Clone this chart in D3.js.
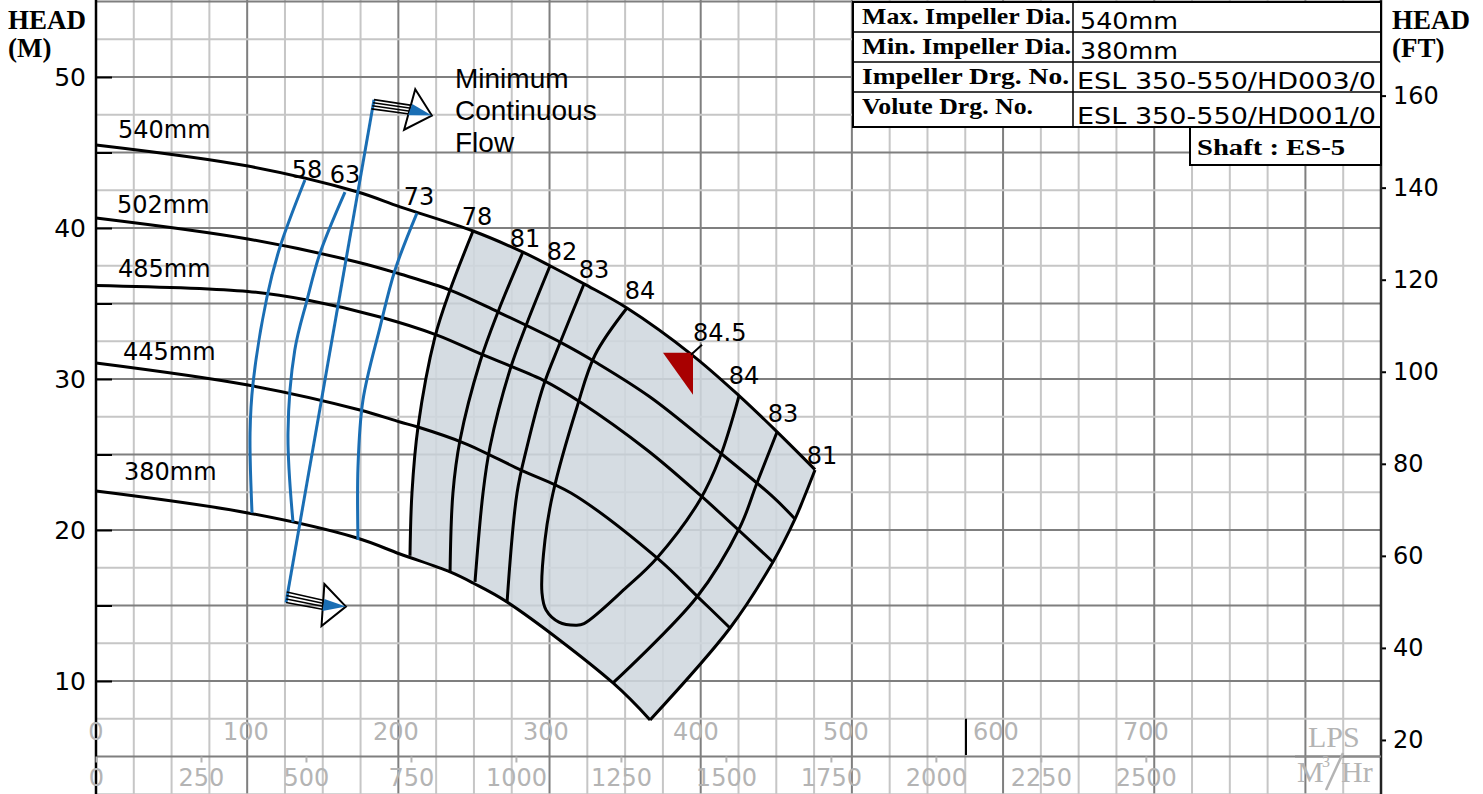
<!DOCTYPE html>
<html>
<head>
<meta charset="utf-8">
<script src="https://cdn.jsdelivr.net/npm/d3@7"></script>
<style>
  body { margin: 0; background: #fff; }
  svg { display: block; }
</style>
</head>
<body>
<div id="chart"></div>
<script>
// ---- data: flow Q in LPS, head H in metres ----
var diameters = ["540mm", "502mm", "485mm", "445mm", "380mm"];
var head540 = [[0,45.5],[100.5,44.1],[172.6,42.4],[201.1,41.4],[249.4,39.8],[282.4,38.4],[300.3,37.5],[322.8,36.3],[351.2,34.7],[394.2,31.6],[425.3,28.9],[450.5,26.5],[475.6,24.0]];
var head502 = [[0,40.66],[100.5,39.27],[172.6,37.75],[201.1,36.95],[234.2,35.89],[265.9,34.44],[308.2,32.38],[331.4,31.06],[366.5,28.81],[408.1,25.5],[447.8,22.19],[462.4,20.73]];
var head485 = [[0,36.2],[100.5,35.8],[139.6,35.23],[187.9,34.11],[225.6,32.91],[256.0,31.59],[295.7,29.93],[320.2,28.48],[364.5,25.3],[399.5,22.32],[447.8,17.88]];
var head445 = [[0,31.06],[100.5,29.6],[174.6,27.95],[201.1,27.15],[212.9,26.82],[243.4,25.76],[281.1,23.97],[314.2,22.45],[371.1,18.15],[398.2,15.56],[419.4,13.51]];
var head380 = [[0,22.58],[100.5,21.13],[172.6,19.47],[201.1,18.41],[234.2,17.22],[249.4,16.49],[271.9,15.23],[342.0,9.87],[366.5,7.42]];
var headCurves = [head540, head502, head485, head445, head380];

// iso-efficiency lines (%)
var eff78 = [[249.4,39.8],[234.2,35.89],[224.2,32.78],[213.0,26.82],[209.0,22.45],[207.7,18.3]];
var eff81 = [[282.4,38.41],[265.9,34.44],[254.0,31.13],[240.8,25.96],[236.1,22.45],[234.2,17.22]];
var eff82 = [[300.3,37.48],[285.1,33.71],[273.8,30.6],[260.6,25.5],[256.0,22.45],[250.7,16.56]];
var eff83L = [[322.8,36.29],[306.9,32.38],[295.7,29.47],[285.1,25.5],[278.5,22.45],[271.9,15.2]];
var eff84 = [[351.2,34.7],[330.1,31.59],[318.2,28.15],[302.3,22.45],[297.0,19.34],[295.0,15.83],[297.7,14.7],[306.2,13.9],[317.5,13.7],[322.8,13.8],[351.2,16.23],[371.1,18.15],[399.5,21.99],[412.8,24.83],[425.3,28.87]];
var eff83R = [[450.5,26.49],[437.2,23.11],[426.0,20.2],[397.5,15.56],[342.0,9.87]];
var eff81R = [[475.6,23.97],[467.7,21.99],[462.4,20.73],[447.8,17.88],[419.4,13.51],[366.5,7.42]];
var blue58 = [[138.2,43.18],[121.7,38.74],[113.1,35.43],[103.9,29.74],[101.9,26.42],[103.2,21.13]];
var blue63 = [[164.7,42.38],[148.2,38.34],[139.6,35.23],[131.5,31.92],[127.0,26.42],[130.3,20.53]];
var blue73 = [[212.3,40.99],[197.8,37.22],[187.9,33.44],[176.6,28.61],[173.3,24.17],[173.3,19.34]];
var effTags = ["58", "63", "73", "78", "81", "82", "83", "84", "84", "83", "81"];
var minFlow = [[125.7,15.2],[183.9,48.5]];
var bep = [394.9, 31.6];
var bepTag = "84.5";
var oddMarkQ = 575.5;

// ---- axes ticks and table text ----
var lpsTicks = [0, 100, 200, 300, 400, 500, 600, 700];
var m3Ticks = [0, 250, 500, 750, 1000, 1250, 1500, 1750, 2000, 2250, 2500];
var headTicks = [10, 15, 20, 25, 30, 35, 40, 45, 50];
var ftTicks = [20, 40, 60, 80, 100, 120, 140, 160];
var tableLabels = ["Max. Impeller Dia.", "Min. Impeller Dia.", "Impeller Drg. No.", "Volute Drg. No."];
var tableValues = ["540mm", "380mm", "ESL 350-550/HD003/0", "ESL 350-550/HD001/0"];
var shaftText = "Shaft : ES-5";

var W = 1483, H = 794;
var BLUE = "#1a6eb4";
var svg = d3.select("#chart").append("svg")
    .attr("width", W).attr("height", H)
    .style("font-family", "'DejaVu Sans', sans-serif");

var x = d3.scaleLinear().domain([0, 850]).range([96, 1381]);
var y = d3.scaleLinear().domain([0, 55]).range([832, 1.5]);
var yFt = d3.scaleLinear().domain([0, 55 / 0.3048]).range([832, 1.5]);
var xM3 = d3.scaleLinear().domain([0, 850 * 3.6]).range([96, 1381]);

// grid
var gx = d3.range(0, 851, 25).sort(function(a, b) { return (a % 100 === 0) - (b % 100 === 0); });
var gy = d3.range(2.5, 55.1, 2.5).sort(function(a, b) { return (a % 5 === 0) - (b % 5 === 0); });
svg.append("g").selectAll("line").data(gx).enter().append("line")
    .attr("x1", function(d) { return x(d); }).attr("x2", function(d) { return x(d); })
    .attr("y1", 0).attr("y2", H)
    .attr("stroke", function(d) { return d % 100 === 0 ? "#7f7f7f" : "#c6c6c6"; })
    .attr("stroke-width", 2);
svg.append("g").selectAll("line").data(gy).enter().append("line")
    .attr("x1", x(0)).attr("x2", x(850))
    .attr("y1", function(d) { return y(d); }).attr("y2", function(d) { return y(d); })
    .attr("stroke", function(d) { return d % 5 === 0 ? "#7f7f7f" : "#c6c6c6"; })
    .attr("stroke-width", 2);

var line = d3.line()
    .x(function(d) { return x(d[0]); })
    .y(function(d) { return y(d[1]); })
    .curve(d3.curveCatmullRom.alpha(0.5));

// shaded operating region
var top540 = head540.filter(function(d) { return d[0] >= 249; });
var bottom380 = head380.filter(function(d) { return d[0] > 208; }).reverse();
var regionPath = line(top540)
    + line(eff81R).replace(/^M/, "L")
    + line(bottom380.concat([eff78[eff78.length - 1]])).replace(/^M/, "L")
    + line(eff78.slice().reverse()).replace(/^M/, "L") + "Z";
svg.append("path").attr("d", regionPath)
    .attr("fill", "#cfd7de").attr("fill-opacity", 0.88).attr("stroke", "none");

// head curves
svg.append("g").selectAll("path").data(headCurves).enter().append("path")
    .attr("d", line).attr("fill", "none").attr("stroke", "#000").attr("stroke-width", 3);

// efficiency lines
svg.append("g").selectAll("path").data([eff78, eff81, eff82, eff83L, eff84, eff83R, eff81R]).enter()
    .append("path").attr("d", line).attr("fill", "none")
    .attr("stroke", "#000").attr("stroke-width", 3).attr("stroke-linejoin", "round");
svg.append("g").selectAll("path").data([blue58, blue63, blue73]).enter()
    .append("path").attr("d", line).attr("fill", "none")
    .attr("stroke", BLUE).attr("stroke-width", 3);

// minimum continuous flow
svg.append("line")
    .attr("x1", x(minFlow[0][0])).attr("y1", y(minFlow[0][1]))
    .attr("x2", x(minFlow[1][0])).attr("y2", y(minFlow[1][1]))
    .attr("stroke", BLUE).attr("stroke-width", 3);

function drawArrow(px, py, angle, starts) {
    var g = svg.append("g").attr("transform", "translate(" + px + "," + py + ") rotate(" + angle + ")");
    var ends = [-4.5, -1.5, 1.5, 4.5];
    starts.forEach(function(s, i) {
        g.append("line").attr("x1", 0).attr("y1", s).attr("x2", 38).attr("y2", ends[i])
            .attr("stroke", "#000").attr("stroke-width", 1.6);
    });
    g.append("path").attr("d", "M37,-21L60,0L37,21Z")
        .attr("fill", "#fff").attr("stroke", "#000").attr("stroke-width", 2);
    g.append("path").attr("d", "M38,-6L60,0L37,6Z").attr("fill", BLUE);
}
drawArrow(x(minFlow[1][0]), y(minFlow[1][1]), 15.4, [0, 3.2, 6.4, 9.6]);
drawArrow(x(minFlow[0][0]), y(minFlow[0][1]), 3.9, [-10.5, -7, -3.5, 0]);

svg.append("g").selectAll("text").data(["Minimum", "Continuous", "Flow"]).enter().append("text")
    .attr("x", 455).attr("y", function(d, i) { return 88 + i * 32; })
    .style("font-family", "'Liberation Sans', Arial, sans-serif").style("font-size", "28px")
    .text(function(d) { return d; });

// best efficiency point
var bx = x(bep[0]), by = y(bep[1]);
svg.append("path").attr("d", "M" + (bx - 30) + "," + (by - 2) + "L" + bx + "," + (by - 2) + "L" + bx + "," + (by + 40) + "Z")
    .attr("fill", "#a80000");
svg.append("line").attr("x1", bx - 2).attr("y1", by).attr("x2", bx + 9).attr("y2", by - 10)
    .attr("stroke", "#000").attr("stroke-width", 2);
svg.append("text").attr("x", bx).attr("y", by - 14).style("font-size", "24px").text(bepTag);

// efficiency labels
var tagAnchors = [blue58[0], blue63[0], blue73[0], eff78[0], eff81[0], eff82[0], eff83L[0], eff84[0], eff84[eff84.length - 1], eff83R[0], eff81R[0]];
var tagOffsets = [[2, -2], [0, -9], [2, -8], [4, -6], [2, -5], [12, -6], [10, -6], [13, -9], [5, -12], [6, -10], [7, -6]];
svg.append("g").selectAll("text").data(effTags).enter().append("text")
    .attr("x", function(d, i) { return x(tagAnchors[i][0]) + tagOffsets[i][0]; })
    .attr("y", function(d, i) { return y(tagAnchors[i][1]) + tagOffsets[i][1]; })
    .attr("text-anchor", "middle").style("font-size", "24px")
    .text(function(d) { return d; });

// diameter labels
var diaOffsets = [[22, -7], [21, -5], [22, -8], [27, -3], [28, -11]];
svg.append("g").selectAll("text").data(diameters).enter().append("text")
    .attr("x", function(d, i) { return x(0) + diaOffsets[i][0]; })
    .attr("y", function(d, i) { return y(headCurves[i][0][1]) + diaOffsets[i][1]; })
    .style("font-size", "24px").text(function(d) { return d; });

// left axis (metres)
var leftAxis = svg.append("g").attr("transform", "translate(" + x(0) + ",0)")
    .call(d3.axisLeft(y).tickValues(headTicks).tickSize(-16).tickPadding(10)
        .tickFormat(function(d) { return d % 10 === 0 ? d : ""; }));
leftAxis.select(".domain").remove();
leftAxis.selectAll(".tick line").attr("stroke", "#000").attr("stroke-width", 2);
leftAxis.selectAll(".tick text").attr("fill", "#000").style("font-size", "25px")
    .style("font-family", "'DejaVu Sans', sans-serif");
svg.append("line").attr("x1", x(0)).attr("x2", x(0)).attr("y1", 0).attr("y2", H)
    .attr("stroke", "#000").attr("stroke-width", 2.5);

// right axis (feet)
var rightAxis = svg.append("g").attr("transform", "translate(" + x(850) + ",0)")
    .call(d3.axisRight(yFt).tickValues(ftTicks).tickSize(5).tickPadding(7));
rightAxis.select(".domain").remove();
rightAxis.selectAll(".tick line").attr("stroke", "#000").attr("stroke-width", 2);
rightAxis.selectAll(".tick text").attr("fill", "#000").style("font-size", "24px")
    .style("font-family", "'DejaVu Sans', sans-serif");
svg.append("line").attr("x1", x(850)).attr("x2", x(850)).attr("y1", 0).attr("y2", H)
    .attr("stroke", "#222").attr("stroke-width", 2.5);

// bottom flow scales
var GREY = "#b4b4b4";
svg.append("g").selectAll("text").data(lpsTicks).enter().append("text")
    .attr("x", function(d) { return x(d) - d * 0.012; }).attr("y", 740)
    .attr("text-anchor", "middle").attr("fill", GREY).style("font-size", "24px")
    .text(function(d) { return d; });
var m3Axis = svg.append("g").attr("transform", "translate(0," + y(5) + ")")
    .call(d3.axisBottom(xM3).tickValues(m3Ticks).tickSize(6).tickPadding(6).tickFormat(d3.format("d")));
m3Axis.select(".domain").remove();
m3Axis.selectAll(".tick line").attr("stroke", GREY).attr("stroke-width", 2);
m3Axis.selectAll(".tick text").attr("fill", GREY).style("font-size", "24px")
    .style("font-family", "'DejaVu Sans', sans-serif");
svg.append("line").attr("x1", x(oddMarkQ)).attr("x2", x(oddMarkQ)).attr("y1", y(7.5)).attr("y2", y(5.1))
    .attr("stroke", "#000").attr("stroke-width", 2);
svg.append("line").attr("x1", 1295).attr("x2", x(850)).attr("y1", y(5)).attr("y2", y(5))
    .attr("stroke", "#8a8a8a").attr("stroke-width", 2);
var serif = "'Liberation Serif', 'DejaVu Serif', serif";
svg.append("text").attr("x", 1308).attr("y", 747).attr("fill", GREY)
    .style("font-family", serif).style("font-size", "30px").text("LPS");
svg.append("text").attr("x", 1297).attr("y", 782).attr("fill", GREY)
    .style("font-family", serif).style("font-size", "30px").text("M");
svg.append("text").attr("x", 1322).attr("y", 767).attr("fill", GREY)
    .style("font-family", serif).style("font-size", "16px").text("3");
svg.append("line").attr("x1", 1326).attr("y1", 790).attr("x2", 1343).attr("y2", 753)
    .attr("stroke", GREY).attr("stroke-width", 2.5);
svg.append("text").attr("x", 1341).attr("y", 782).attr("fill", GREY)
    .style("font-family", serif).style("font-size", "30px").text("Hr");

// axis titles
[["HEAD", "(M)", 8], ["HEAD", "(FT)", 1392]].forEach(function(t) {
    svg.append("text").attr("x", t[2]).attr("y", 29).style("font-family", serif)
        .style("font-weight", "bold").style("font-size", "27px").text(t[0]);
    svg.append("text").attr("x", t[2]).attr("y", 57).style("font-family", serif)
        .style("font-weight", "bold").style("font-size", "27px").text(t[1]);
});

// info table
var tx0 = 853, tx1 = 1073, tx2 = x(850);
var rowTops = [2, 32, 62, 92], rowBottoms = [32, 62, 92, 127];
var labelLens = [209, 209, 207, 171];
var valueLens = [98, 98, 299, 299];
var tbl = svg.append("g");
tbl.append("rect").attr("x", tx0).attr("y", 2).attr("width", tx2 - tx0).attr("height", 125)
    .attr("fill", "#fff").attr("stroke", "#000").attr("stroke-width", 2);
tbl.selectAll("line.row").data(rowBottoms.slice(0, 3)).enter().append("line")
    .attr("x1", tx0).attr("x2", tx2).attr("y1", function(d) { return d; }).attr("y2", function(d) { return d; })
    .attr("stroke", "#000").attr("stroke-width", 1.5);
tbl.append("line").attr("x1", tx1).attr("x2", tx1).attr("y1", 2).attr("y2", 127)
    .attr("stroke", "#000").attr("stroke-width", 1.5);
tbl.selectAll("text.lab").data(tableLabels).enter().append("text")
    .attr("x", 862).attr("y", function(d, i) { return rowTops[i] + 22; })
    .attr("textLength", function(d, i) { return labelLens[i]; }).attr("lengthAdjust", "spacingAndGlyphs")
    .style("font-family", serif).style("font-weight", "bold").style("font-size", "24px")
    .text(function(d) { return d; });
tbl.selectAll("text.val").data(tableValues).enter().append("text")
    .attr("x", function(d, i) { return i < 2 ? 1080 : 1077; })
    .attr("y", function(d, i) { return rowBottoms[i] - 3; })
    .attr("textLength", function(d, i) { return valueLens[i]; }).attr("lengthAdjust", "spacingAndGlyphs")
    .style("font-size", "23px").text(function(d) { return d; });
tbl.append("rect").attr("x", 1190).attr("y", 127).attr("width", tx2 - 1190).attr("height", 38)
    .attr("fill", "#fff").attr("stroke", "#000").attr("stroke-width", 2);
tbl.append("text").attr("x", 1197).attr("y", 155).attr("textLength", 148).attr("lengthAdjust", "spacingAndGlyphs")
    .style("font-family", serif).style("font-weight", "bold").style("font-size", "23px").text(shaftText);
</script>
</body>
</html>
